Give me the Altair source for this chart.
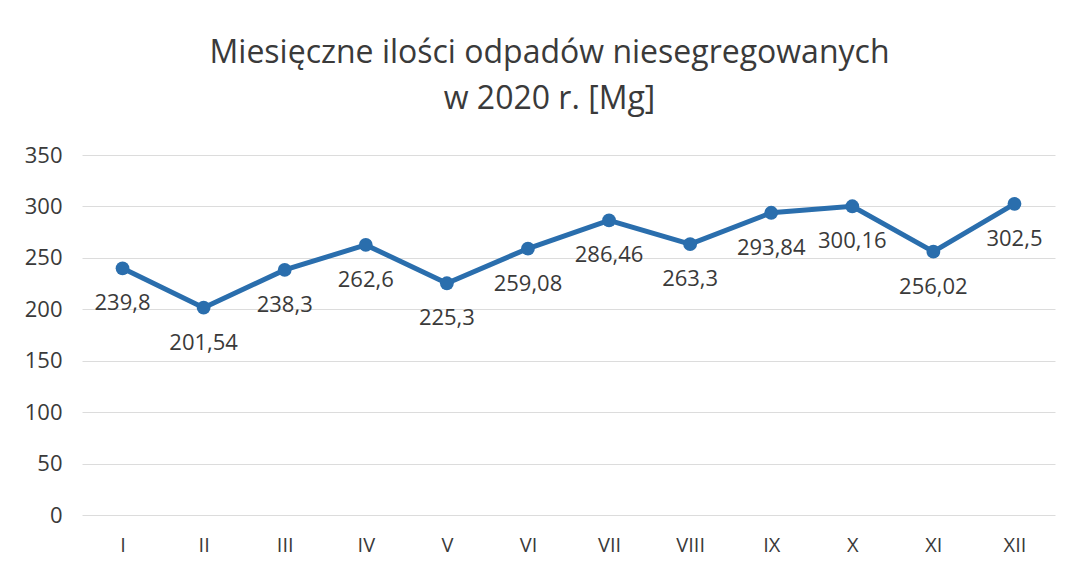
import altair as alt
import pandas as pd

months = ["I", "II", "III", "IV", "V", "VI", "VII", "VIII", "IX", "X", "XI", "XII"]
values = [239.8, 201.54, 238.3, 262.6, 225.3, 259.08, 286.46, 263.3, 293.84, 300.16, 256.02, 302.5]
labels = ["239,8", "201,54", "238,3", "262,6", "225,3", "259,08", "286,46", "263,3", "293,84", "300,16", "256,02", "302,5"]
y_ticks = [0, 50, 100, 150, 200, 250, 300, 350]

df = pd.DataFrame({"month": months, "value": values, "label": labels})

FONT = "Open Sans"
BLUE = "#2a6ead"
TXT = "#3a3a3a"

x = alt.X("month:N", sort=months, title=None,
          scale=alt.Scale(paddingInner=0, paddingOuter=0.5),
          axis=alt.Axis(labelAngle=0, ticks=False, domain=False, grid=False,
                        labelFontSize=20, labelColor=TXT, labelFont=FONT, labelPadding=20))
y = alt.Y("value:Q", title=None,
          scale=alt.Scale(domain=[0, 350], nice=False),
          axis=alt.Axis(values=y_ticks, ticks=False, domain=False, grid=True,
                        gridColor="#dcdcdc", gridWidth=1,
                        labelFontSize=22, labelColor=TXT, labelFont=FONT, labelPadding=20))

base = alt.Chart(df).encode(x=x, y=y)

line = base.mark_line(color=BLUE, strokeWidth=5)
pts = base.mark_circle(color=BLUE, size=190, opacity=1)
txt = base.mark_text(dy=35, fontSize=22, font=FONT, color=TXT).encode(text="label:N")

chart = (line + pts + txt).properties(
    width=973, height=360,
    title=alt.TitleParams(
        text=["Miesięczne ilości odpadów niesegregowanych", "w 2020 r. [Mg]"],
        fontSize=32, font=FONT, fontWeight="normal", color=TXT,
        anchor="middle", dx=-19, offset=28, lineHeight=46),
    autosize=alt.AutoSizeParams(type="none"),
    padding={"left": 74, "top": 147, "right": 11, "bottom": 48},
    background="white",
).configure_view(stroke=None)

chart.save("out.html", embed_options={"renderer": "svg", "actions": False})
